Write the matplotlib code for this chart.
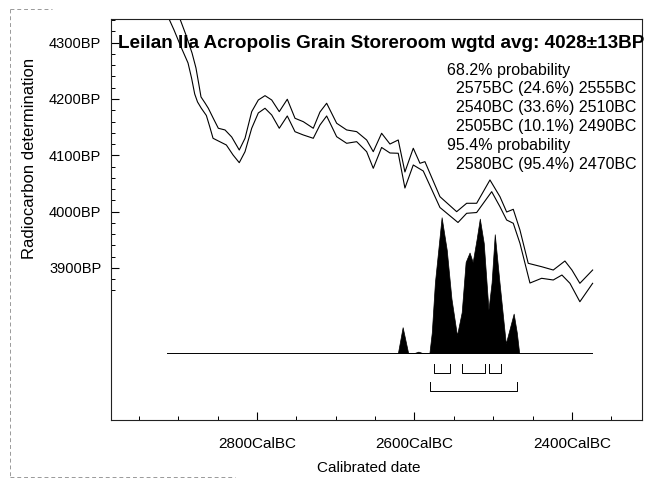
import matplotlib

matplotlib.use("Agg")

import matplotlib.pyplot as plt  # noqa: E402
from matplotlib.lines import Line2D  # noqa: E402
from matplotlib.ticker import FixedLocator  # noqa: E402

# ── data ───────────────────────────────────────────────────────────────────────

# calibration curve envelope (cal BC, BP)
upper_year = [2905.4, 2897.8, 2890.2, 2882.5, 2877.5, 2873.7, 2871.1, 2866.0, 2861.8,
              2855.5, 2849.1, 2840.6, 2832.1, 2822.5, 2815.2, 2806.7, 2798.3,
              2789.8, 2781.3, 2771.7, 2761.5, 2751.7, 2741.2, 2728.5, 2720.0, 2711.5,
              2698.8, 2686.1, 2673.4, 2660.7, 2652.3, 2641.7, 2631.1, 2620.6, 2612.1,
              2601.5, 2593.0, 2586.7, 2567.6, 2546.4, 2533.7, 2521.0, 2504.1, 2491.4,
              2482.9, 2474.5, 2466.0, 2455.5, 2438.5, 2423.7, 2408.9, 2400.0, 2389.9,
              2373.7]
upper_bp = [4367, 4342.1, 4313.7, 4281.7, 4255.1, 4224.9, 4203.6, 4192.9, 4183.5,
            4165.7, 4148, 4145, 4132.5, 4109.4, 4130.2, 4177.5, 4198.2,
            4205.9, 4198.2, 4177.5, 4199.5, 4165.7, 4159.7, 4148, 4176.9, 4192.4,
            4156.9, 4145, 4142, 4127.2, 4106.4, 4139.1, 4120, 4127.2, 4070.4,
            4112.5, 4085.8, 4088.7, 4026.5, 3999.9, 4014.8, 4014.8, 4056.2, 4026.5,
            3999.3, 4004.1, 3967.3, 3908.2, 3902.2, 3896.3, 3912.3, 3896.3, 3872.7,
            3896.3]

lower_year = [2915.6, 2911.7, 2905.4, 2896.5, 2887.6, 2883.1, 2879.1, 2875.5, 2870.7,
              2864.3, 2860.0, 2855.8, 2847.3, 2838.9, 2830.4, 2822.5, 2815.2, 2806.7,
              2798.3, 2789.8, 2781.3, 2771.7, 2761.5, 2751.7, 2741.2, 2728.5, 2720.0,
              2711.5, 2698.8, 2686.1, 2673.4, 2660.7, 2652.3, 2641.7, 2631.1, 2620.6,
              2612.1, 2601.5, 2588.8, 2567.6, 2544.7, 2533.7, 2521.0, 2501.9, 2491.4,
              2482.9, 2474.5, 2466.0, 2453.3, 2438.5, 2423.7, 2412.7, 2402.5, 2389.9,
              2373.7]
lower_bp = [4354.5, 4342.1, 4322.6, 4292.4, 4264, 4237.3, 4208.9, 4194.7, 4183.5,
            4170.7, 4150.8, 4130.2, 4124.2, 4118.3, 4100.6, 4086.9, 4106.4, 4148,
            4175.2, 4183.5, 4171.6, 4148, 4169.8, 4141.9, 4136.1, 4130.2, 4153.8,
            4169.8, 4133, 4121.3, 4124.2, 4106.4, 4076.9, 4113.9, 4104.1, 4103.6,
            4041.9, 4082.8, 4072.1, 4007.3, 3980.7, 3997, 3998.4, 4035.4, 4008.7,
            3985.1, 3979.3, 3943.7, 3873.2, 3881.6, 3878.6, 3887.4, 3872.7, 3840,
            3872.7]

# calibrated probability distribution (cal BC, relative height)
prob_year = [2621, 2615, 2608, 2600, 2595, 2590, 2581, 2578, 2574, 2565.5, 2559, 2553,
             2546, 2540, 2535, 2530, 2526, 2521, 2517, 2512, 2506, 2502, 2498, 2492,
             2484, 2479, 2474, 2470, 2467]
prob_rel = [0, 0.19, 0, 0, 0.01, 0, 0, 0.15, 0.52, 1.0, 0.76, 0.40,
            0.13, 0.30, 0.67, 0.74, 0.67, 0.84, 0.99, 0.81, 0.32, 0.52, 0.875, 0.52,
            0.07, 0.18, 0.29, 0.15, 0]

# highest probability ranges (from, to) cal BC
ranges_68 = [(2575, 2555), (2540, 2510), (2505, 2490)]
ranges_95 = [(2580, 2470)]

title = "Leilan IIa Acropolis Grain Storeroom wgtd avg: 4028\u00b113BP"
prob_lines = [
    ("68.2% probability", False),
    ("2575BC (24.6%) 2555BC", True),
    ("2540BC (33.6%) 2510BC", True),
    ("2505BC (10.1%) 2490BC", True),
    ("95.4% probability", False),
    ("2580BC (95.4%) 2470BC", True),
]

y_major = [3900, 4000, 4100, 4200, 4300]
x_major = [2800, 2600, 2400]

# ── style ──────────────────────────────────────────────────────────────────────

plt.rcParams["font.family"] = ["Liberation Sans", "DejaVu Sans"]
_W, _H = 649, 480
_BASE = 3749      # BP level of the distribution baseline
_SCALE = 241      # BP height of a peak of relative height 1
_DIST_SPAN = (2914, 2375)

fig = plt.figure(figsize=(_W / 100, _H / 100), dpi=100)
ax = fig.add_axes([111 / _W, 1 - 420 / _H, (642 - 111) / _W, (420 - 19) / _H])
ax.set_xlim(2985.4, 2311)
ax.set_ylim(3630, 4342)

_line = dict(color="black", lw=0.8, solid_joinstyle="round")
ax.plot(upper_year, upper_bp, **_line)
ax.plot(lower_year, lower_bp, **_line)

# distribution
ax.plot(_DIST_SPAN, [_BASE, _BASE], color="black", lw=0.7)
ax.fill_between(prob_year, _BASE, [_BASE + p * _SCALE for p in prob_rel],
                color="black", lw=0.5)

# range brackets
for lo, hi in ranges_68:
    ax.plot([lo, lo, hi, hi], [3730, 3714, 3714, 3730], color="black", lw=0.7)
for lo, hi in ranges_95:
    ax.plot([lo, lo, hi, hi], [3697, 3682, 3682, 3697], color="black", lw=0.7)

# axes styling
for sp in ax.spines.values():
    sp.set_linewidth(0.8)
    sp.set_color("#222222")
ax.xaxis.set_major_locator(FixedLocator(x_major))
ax.xaxis.set_minor_locator(FixedLocator(list(range(2950, 2300, -50))))
ax.yaxis.set_major_locator(FixedLocator(y_major))
ax.yaxis.set_minor_locator(FixedLocator(list(range(3860, 4341, 20))))
ax.set_xticklabels([f"{v}CalBC" for v in x_major])
ax.set_yticklabels([f"{v}BP" for v in y_major])
ax.tick_params(axis="both", which="major", direction="in", length=6, width=0.8)
ax.tick_params(axis="both", which="minor", direction="in", length=3, width=0.7)
ax.tick_params(axis="x", which="major", labelsize=11, pad=12)
ax.tick_params(axis="y", which="major", labelsize=10.5, pad=7)

fig.text(118 / _W, 1 - 44 / _H, title, fontsize=13.6, fontweight="bold",
         ha="left", va="center")
for i, (txt, indent) in enumerate(prob_lines):
    x0 = 456 if indent else 447
    fig.text(x0 / _W, 1 - (70 + i * 18.8) / _H, txt, fontsize=11.5,
             ha="left", va="center")

fig.text(30 / _W, 1 - 158 / _H, "Radiocarbon determination", fontsize=12,
         rotation=90, ha="center", va="center")
fig.text(369 / _W, 1 - 468 / _H, "Calibrated date", fontsize=11,
         ha="center", va="center")

# faint page border from the scan
_dash = dict(color="#999999", lw=0.7, linestyle=(0, (4, 3)))
fig.add_artist(Line2D([10 / _W, 10 / _W], [1 - 9 / _H, 1 - 477 / _H],
                      transform=fig.transFigure, **_dash))
fig.add_artist(Line2D([10 / _W, 52 / _W], [1 - 9 / _H, 1 - 9 / _H],
                      transform=fig.transFigure, **_dash))
fig.add_artist(Line2D([10 / _W, 235 / _W], [1 - 477 / _H, 1 - 477 / _H],
                      transform=fig.transFigure, **_dash))

fig.savefig("out.png", dpi=100)
